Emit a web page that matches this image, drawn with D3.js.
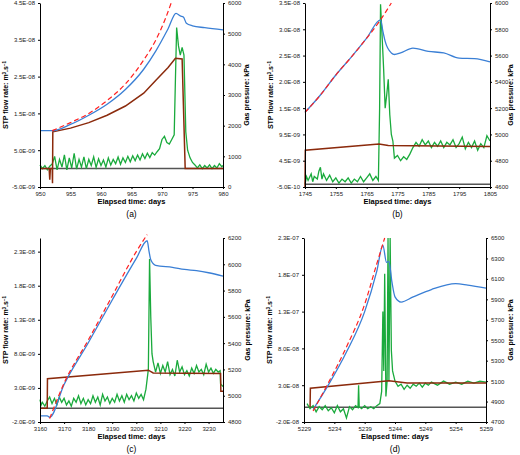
<!DOCTYPE html>
<html><head><meta charset="utf-8">
<script src="https://cdn.jsdelivr.net/npm/d3@7"></script>
<style>body{margin:0;background:#fff}svg{font-family:Arial,"Liberation Sans",sans-serif}</style>
</head><body><svg id="c" width="520" height="455"></svg>
<script>
// Panel (a)
const blueA=[[950,1.03e-8],[952,1.03e-8],[955,1.2e-8],[958,1.45e-8],[961,1.75e-8],[964,2.15e-8],[967,2.7e-8],[969,3.2e-8],[971,3.8e-8],[972.3,4.22e-8],[973,4.15e-8],[973.5,4.12e-8],[974,3.95e-8],[975,3.88e-8],[977,3.83e-8],[980,3.77e-8]];
const redA=[[952,1.03e-8],[955,1.25e-8],[958,1.5e-8],[961,1.85e-8],[964,2.3e-8],[967,2.95e-8],[969,3.5e-8],[970.5,4.05e-8],[971.5,4.5e-8]];
const brownA=[[950,0],[951.5,0],[951.6,-3e-9],[951.7,0],[952,0],[952.05,-4e-9],[952.1,1.0e-8],[955,1.1e-8],[958,1.25e-8],[961,1.45e-8],[964,1.7e-8],[967,2.05e-8],[969,2.4e-8],[971,2.75e-8],[972.2,3.0e-8],[973.3,2.98e-8],[973.8,0],[980,0]];
const greenA=[[950,720],[950.4,600],[950.8,700],[951.2,560],[951.6,680],[952,750],[952.4,1000],[952.8,560],[953.2,900],[953.6,650],[954,1050],[954.4,560],[954.8,950],[955.2,620],[955.6,1100],[956,580],[956.4,900],[956.8,650],[957.2,980],[957.6,600],[958,900],[958.4,700],[958.8,980],[959.2,640],[959.6,920],[960,700],[960.4,880],[960.8,650],[961.2,950],[961.6,720],[962,900],[962.4,760],[962.8,980],[963.2,740],[963.6,950],[964,800],[964.4,1000],[964.8,820],[965.2,1020],[965.6,860],[966,1040],[966.4,880],[966.8,1080],[967.2,930],[967.6,1100],[968,960],[968.4,1120],[968.8,1040],[969.2,1150],[969.6,1250],[970,1550],[970.4,1650],[970.8,1450],[971.2,1400],[971.6,1550],[972,1700],[972.2,3500],[972.4,5200],[972.7,4600],[973,4300],[973.3,4550],[973.6,4300],[973.9,1800],[974.2,1200],[974.6,950],[975,800],[975.4,720],[975.8,620],[976.2,720],[976.6,600],[977,700],[977.4,620],[977.8,720],[978.2,600],[978.6,700],[979,620],[979.4,760],[979.8,660],[980,700]];
const leftTicksA=[-5e-9,5e-9,1.5e-8,2.5e-8,3.5e-8,4.5e-8];
const leftLabelsA=["-5.0E-09","5.0E-09","1.5E-08","2.5E-08","3.5E-08","4.5E-08"];
const rightTicksA=[0,1000,2000,3000,4000,5000,6000];
const xTicksA=[950,955,960,965,970,975,980];
// Panel (b)
const blueB=[[1745,1.37e-8],[1750,1.7e-8],[1755,2.08e-8],[1760,2.42e-8],[1765,2.78e-8],[1769.5,3.13e-8],[1770.3,2.9e-8],[1771,2.72e-8],[1773,2.5e-8],[1774,2.47e-8],[1776,2.5e-8],[1780,2.59e-8],[1785,2.53e-8],[1790,2.5e-8],[1795,2.4e-8],[1800,2.39e-8],[1805,2.33e-8]];
const redB=[[1745,1.37e-8],[1750,1.7e-8],[1755,2.08e-8],[1760,2.42e-8],[1765,2.78e-8],[1769.5,3.13e-8],[1773,3.45e-8]];
const brownB=[[1745,-5e-10],[1745.1,6.5e-9],[1769,7.7e-9],[1772,7.4e-9],[1805,7.2e-9]];
const greenB=[[1745,4620],[1745.5,4680],[1746,4650],[1747,4700],[1747.5,4640],[1748,4680],[1749,4660],[1749.5,4720],[1750,4750],[1750.5,4660],[1751,4700],[1752,4650],[1753,4690],[1754,4640],[1755,4670],[1756,4630],[1757,4660],[1758,4640],[1759,4670],[1760,4630],[1761,4660],[1762,4640],[1763,4680],[1764,4640],[1765,4670],[1766,4700],[1767,4650],[1768,4680],[1768.8,4650],[1769.2,5200],[1769.5,5990],[1770,5750],[1770.5,5500],[1771,5200],[1771.5,5300],[1772,5420],[1772.5,5150],[1773,5000],[1773.5,4950],[1774,4820],[1775,4840],[1776,4800],[1777,4830],[1778,4810],[1779,4850],[1780,4900],[1781,4940],[1782,4910],[1783,4960],[1784,4920],[1785,4950],[1786,4900],[1787,4940],[1788,4910],[1789,4950],[1790,4900],[1791,4940],[1792,4920],[1793,4960],[1794,4900],[1795,4930],[1796,4980],[1797,4890],[1798,4940],[1799,4900],[1800,4950],[1801,4880],[1802,4930],[1803,4900],[1804,4990],[1805,4950]];
const leftTicksB=[-5e-10,4.5e-9,9.5e-9,1.45e-8,1.95e-8,2.45e-8,2.95e-8,3.45e-8];
const leftLabelsB=["-5.0E-10","4.5E-09","9.5E-09","1.5E-08","2.0E-08","2.5E-08","3.0E-08","3.5E-08"];
const rightTicksB=[4600,4800,5000,5200,5400,5600,5800,6000];
const xTicksB=[1745,1755,1765,1775,1785,1795,1805];
// Panel (c)
const blueC=[[3160,-1.1e-9],[3163,-1.1e-9],[3164,-1.3e-9],[3170,3.5e-9],[3180,9.6e-9],[3190,1.59e-8],[3200,2.2e-8],[3204.5,2.46e-8],[3205.3,2.3e-8],[3206,2.18e-8],[3208,2.1e-8],[3215,2.07e-8],[3220,2.04e-8],[3225,2.02e-8],[3230,1.99e-8],[3236,1.94e-8]];
const redC=[[3164,-1.5e-9],[3170,3.7e-9],[3180,1.0e-8],[3190,1.65e-8],[3200,2.3e-8],[3204.5,2.55e-8]];
const brownC=[[3160,0],[3163,0],[3163.1,4.35e-9],[3205,5.6e-9],[3207,5.2e-9],[3235,5.1e-9],[3235.1,2.5e-9],[3236,2.5e-9]];
const greenC=[[3160,4970],[3160.5,4930],[3161,4950],[3162,4920],[3163,4960],[3164,4990],[3165,4940],[3166,4980],[3167,4930],[3168,4990],[3169,4950],[3170,4980],[3171,4930],[3172,4960],[3173,4920],[3174,4980],[3175,4950],[3176,5000],[3177,4940],[3178,4980],[3179,4930],[3180,4970],[3181,4940],[3182,5000],[3183,4950],[3184,4990],[3185,4930],[3186,5010],[3187,4960],[3188,4990],[3189,4940],[3190,4980],[3191,4950],[3192,5010],[3193,4960],[3194,5000],[3195,4950],[3196,5010],[3197,4970],[3198,5000],[3199,4960],[3200,5020],[3201,4980],[3202,5010],[3203,4970],[3204,5050],[3205,5200],[3205.5,6040],[3206,5600],[3206.5,5320],[3207,5260],[3208,5180],[3209,5250],[3210,5170],[3211,5230],[3212,5180],[3213,5260],[3214,5160],[3215,5200],[3216,5150],[3217,5270],[3218,5180],[3219,5220],[3220,5160],[3221,5190],[3222,5150],[3223,5210],[3224,5170],[3225,5230],[3226,5180],[3227,5200],[3228,5160],[3229,5240],[3230,5180],[3231,5210],[3232,5170],[3233,5200],[3234,5180],[3234.8,5190],[3235,5090],[3236,5070]];
const leftTicksC=[-2e-9,3e-9,8e-9,1.3e-8,1.8e-8,2.3e-8];
const leftLabelsC=["-2.0E-09","3.0E-09","8.0E-09","1.3E-08","1.8E-08","2.3E-08"];
const rightTicksC=[4800,5000,5200,5400,5600,5800,6000,6200];
const xTicksC=[3160,3170,3180,3190,3200,3210,3220,3230];
// Panel (d)
const blueD=[[5230.5,-3e-9],[5233,3e-8],[5236,7.5e-8],[5239,1.3e-7],[5241,1.85e-7],[5242,2.2e-7],[5242.6,1.97e-7],[5243,1.98e-7],[5243.5,1.7e-7],[5244,1.5e-7],[5245,1.43e-7],[5247,1.5e-7],[5250,1.6e-7],[5254,1.68e-7],[5256,1.66e-7],[5259,1.62e-7]];
const redD=[[5230.5,-5e-9],[5233,3.3e-8],[5236,8.2e-8],[5239,1.4e-7],[5241,1.95e-7],[5242.3,2.3e-7]];
const brownD=[[5230,0],[5230.05,2.6e-8],[5243,3.6e-8],[5246,3.3e-8],[5259,3.3e-8]];
const greenD=[[5229.5,4880],[5230,4830],[5230.5,4860],[5231,4800],[5231.5,4850],[5232,4820],[5232.5,4860],[5233,4810],[5233.5,4840],[5234,4790],[5234.5,4860],[5235,4800],[5235.5,4830],[5236,4740],[5236.5,4850],[5237,4820],[5237.5,4860],[5237.9,4840],[5238,5060],[5238.1,4850],[5238.5,4830],[5239,4860],[5239.5,4830],[5240,4850],[5240.5,4830],[5241,4860],[5241.5,4880],[5241.8,5000],[5242,5780],[5242.15,5200],[5242.3,6150],[5242.5,4950],[5242.7,5100],[5242.85,6500],[5243,5100],[5243.2,6500],[5243.4,5400],[5243.6,5200],[5244,5100],[5244.5,5050],[5245,5070],[5245.5,5020],[5246,5060],[5246.5,5030],[5247,5070],[5247.5,5050],[5248,5080],[5248.5,5040],[5249,5080],[5249.5,5060],[5250,5090],[5251,5060],[5252,5100],[5253,5070],[5254,5090],[5255,5070],[5256,5100],[5257,5080],[5258,5100],[5259,5090]];
const leftTicksD=[-2e-8,3e-8,8e-8,1.3e-7,1.8e-7,2.3e-7];
const leftLabelsD=["-2.0E-08","3.0E-08","8.0E-08","1.3E-07","1.8E-07","2.3E-07"];
const rightTicksD=[4700,4900,5100,5300,5500,5700,5900,6100,6300,6500];
const xTicksD=[5229,5234,5239,5244,5249,5254,5259];

const svg=d3.select("#c");
const panels=[
 {x0:40,x1:223,y0:3,y1:187,xd:[950,980],ld:[-5e-9,4.5e-8],rd:[0,6000],blue:blueA,red:redA,brown:brownA,green:greenA,lt:leftTicksA,ll:leftLabelsA,rt:rightTicksA,xt:xTicksA,tag:"(a)",rlx:249},
 {x0:305,x1:490,y0:3,y1:187,xd:[1745,1805],ld:[-5e-10,3.45e-8],rd:[4600,6000],blue:blueB,red:redB,brown:brownB,green:greenB,lt:leftTicksB,ll:leftLabelsB,rt:rightTicksB,xt:xTicksB,tag:"(b)",rlx:513},
 {x0:40,x1:223,y0:238,y1:422,xd:[3160,3236],ld:[-2e-9,2.5e-8],rd:[4800,6200],blue:blueC,red:redC,brown:brownC,green:greenC,lt:leftTicksC,ll:leftLabelsC,rt:rightTicksC,xt:xTicksC,tag:"(c)",rlx:250},
 {x0:304,x1:486,y0:238,y1:422,xd:[5229,5259],ld:[-2e-8,2.3e-7],rd:[4700,6500],blue:blueD,red:redD,brown:brownD,green:greenD,lt:leftTicksD,ll:leftLabelsD,rt:rightTicksD,xt:xTicksD,tag:"(d)",rlx:513}
];
panels.forEach(p=>{
 const x=d3.scaleLinear().domain(p.xd).range([p.x0,p.x1]);
 const yl=d3.scaleLinear().domain(p.ld).range([p.y1,p.y0]);
 const yr=d3.scaleLinear().domain(p.rd).range([p.y1,p.y0]);
 const g=svg.append("g");
 const z=yl(0);
 if(z<p.y1-1) g.append("line").attr("x1",p.x0).attr("x2",p.x1).attr("y1",z).attr("y2",z).attr("stroke","#555").attr("stroke-width",1.5);
 const ll=d3.line().x(d=>x(d[0])).y(d=>yl(d[1]));
 const ls=d3.line().x(d=>x(d[0])).y(d=>yl(d[1])).curve(d3.curveMonotoneX);
 const lr=d3.line().x(d=>x(d[0])).y(d=>yr(d[1]));
 g.append("path").attr("d",lr(p.green)).attr("fill","none").attr("stroke","#1aaa3c").attr("stroke-width",1.3);
 g.append("path").attr("d",ll(p.brown)).attr("fill","none").attr("stroke","#8b2a0c").attr("stroke-width",1.5);
 g.append("path").attr("d",ls(p.blue)).attr("fill","none").attr("stroke","#3a7fd5").attr("stroke-width",1.3);
 g.append("path").attr("d",ls(p.red)).attr("fill","none").attr("stroke","#ff2020").attr("stroke-width",1.2).attr("stroke-dasharray","5,3");
 const fs="6px";
 const la=g.append("g").attr("transform",`translate(${p.x0},0)`).call(d3.axisLeft(yl).tickValues(p.lt).tickFormat((d,i)=>p.ll[i]).tickSize(2).tickSizeOuter(0));
 const ra=g.append("g").attr("transform",`translate(${p.x1},0)`).call(d3.axisRight(yr).tickValues(p.rt).tickFormat(d3.format("d")).tickSize(2).tickSizeOuter(0));
 const xa=g.append("g").attr("transform",`translate(0,${p.y1})`).call(d3.axisBottom(x).tickValues(p.xt).tickFormat(d3.format("d")).tickSize(2).tickSizeOuter(0));
 [la,ra,xa].forEach(a=>{a.selectAll("text").style("font-size",fs).attr("fill","#222");a.select(".domain").attr("stroke","#000");});
 g.append("text").attr("x",(p.x0+p.x1)/2).attr("y",p.y1+17).attr("text-anchor","middle").style("font-size","7.5px").style("font-weight","bold").text("Elapsed time: days");
 g.append("text").attr("x",(p.x0+p.x1)/2).attr("y",p.y1+30).attr("text-anchor","middle").style("font-size","8.5px").text(p.tag);
 const my=(p.y0+p.y1)/2;
 g.append("text").attr("transform",`translate(${p.x0-32},${my}) rotate(-90)`).attr("text-anchor","middle").style("font-size","7px").style("font-weight","bold").html('STP flow rate: m<tspan baseline-shift="super" font-size="4.5px">3</tspan>.s<tspan baseline-shift="super" font-size="4.5px">−1</tspan>');
 g.append("text").attr("transform",`translate(${p.rlx},${my}) rotate(-90)`).attr("text-anchor","middle").style("font-size","7px").style("font-weight","bold").text("Gas pressure: kPa");
});
</script></body></html>
